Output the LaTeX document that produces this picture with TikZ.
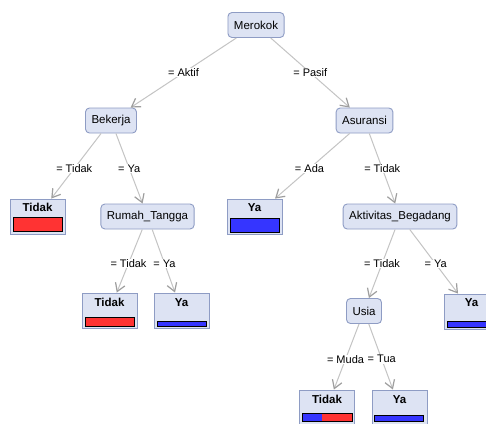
\documentclass[tikz,border=0pt]{standalone}
\usepackage{fontspec}
\setmainfont{Liberation Sans}
\usetikzlibrary{arrows.meta,calc}

\definecolor{nodefill}{HTML}{DDE3F3}
\definecolor{nodeline}{HTML}{8E9CC4}
\definecolor{edgeline}{HTML}{C4C4C4}
\definecolor{tipgray}{HTML}{9E9E9E}
\definecolor{barred}{HTML}{FF3333}
\definecolor{barblue}{HTML}{3535FF}

\tikzset{
	attr/.style={draw=nodeline,fill=nodefill,rounded corners=4pt,line width=0.9pt,
		minimum height=25pt,inner xsep=6pt,font=\fontsize{11.5}{13}\selectfont},
	leaf/.style={draw=nodeline,fill=nodefill,line width=0.9pt,
		minimum width=55pt,minimum height=35pt,inner sep=0pt},
	leaftxt/.style={font=\fontsize{11.5}{13}\selectfont\bfseries,inner sep=0pt},
	branch/.style={edgeline,line width=1pt,-{Straight Barb[tipgray,length=8pt,width=10pt,line width=1.2pt]}},
	elbl/.style={fill=white,inner sep=0.5pt,font=\fontsize{11}{12}\selectfont},
	bar/.style={draw=black,line width=0.8pt}
}

\begin{document}
\begin{tikzpicture}[x=1pt,y=-1pt]
\useasboundingbox[fill=white] (0,0) rectangle (486,423);

% inner nodes
\node[attr] (merokok) at (256,25) {Merokok};
\node[attr] (bekerja) at (111,120.5) {Bekerja};
\node[attr] (asuransi) at (364.5,120.5) {Asuransi};
\node[attr] (rumah) at (147.5,216.5) {Rumah\_Tangga};
\node[attr] (begadang) at (400,216.5) {Aktivitas\_Begadang};
\node[attr] (usia) at (364,311) {Usia};

% leaves
\node[leaf] (l1) at (37.5,216.5) {};
\node[leaf] (l2) at (109.5,310.5) {};
\node[leaf] (l3) at (181.5,310.5) {};
\node[leaf] (l4) at (254.5,216.5) {};
\node[leaf] (l5) at (471.5,311.5) {};
\node[leaf] (l6) at (327,407.5) {};
\node[leaf] (l7) at (399.5,407.5) {};

\node[leaftxt] (t1) at ($(l1.north)+(0,9)$) {Tidak};
\node[leaftxt] (t2) at ($(l2.north)+(0,10)$) {Tidak};
\node[leaftxt] (t3) at ($(l3.north)+(0,10)$) {Ya};
\node[leaftxt] (t4) at ($(l4.north)+(0,9)$) {Ya};
\node[leaftxt] (t5) at ($(l5.north)+(0,9)$) {Ya};
\node[leaftxt] (t6) at ($(l6.north)+(0,10)$) {Tidak};
\node[leaftxt] (t7) at ($(l7.north)+(0,10)$) {Ya};

% class bars
\filldraw[bar,fill=barred] ($(l1.south west)+(4,-3)$) rectangle ($(l1.south east)+(-3,-17)$);
\filldraw[bar,fill=barred] ($(l2.south west)+(4,-2)$) rectangle ($(l2.south east)+(-3,-11)$);
\filldraw[bar,fill=barblue] ($(l3.south west)+(4,-2)$) rectangle ($(l3.south east)+(-3,-7)$);
\filldraw[bar,fill=barblue] ($(l4.south west)+(4,-2)$) rectangle ($(l4.south east)+(-3,-16)$);
\filldraw[bar,fill=barblue] ($(l5.south west)+(4,-2)$) rectangle ($(l5.south east)+(-3,-8)$);
\fill[barblue] ($(l6.south west)+(3,-4)$) rectangle ($(l6.south west)+(23,-12)$);
\fill[barred] ($(l6.south west)+(23,-4)$) rectangle ($(l6.south east)+(-3,-12)$);
\draw[bar] ($(l6.south west)+(3,-4)$) rectangle ($(l6.south east)+(-3,-12)$);
\filldraw[bar,fill=barblue] ($(l7.south west)+(3,-4)$) rectangle ($(l7.south east)+(-4,-10)$);

% branches
\draw[branch] (merokok) -- (bekerja);
\draw[branch] (merokok) -- (asuransi);
\draw[branch] (bekerja) -- (l1);
\draw[branch] (bekerja) -- (rumah);
\draw[branch] (rumah) -- (l2);
\draw[branch] (rumah) -- (l3);
\draw[branch] (asuransi) -- (l4);
\draw[branch] (asuransi) -- (begadang);
\draw[branch] (begadang) -- (usia);
\draw[branch] (begadang) -- (l5);
\draw[branch] (usia) -- (l6);
\draw[branch] (usia) -- (l7);

% branch labels
\node[elbl] (e1) at ($(merokok)!.5!(bekerja)$) {= Aktif};
\node[elbl] (e2) at ($(merokok)!.5!(asuransi)$) {= Pasif};
\node[elbl] (e3) at ($(bekerja)!.5!(l1)$) {= Tidak};
\node[elbl] (e4) at ($(bekerja)!.5!(rumah)$) {= Ya};
\node[elbl] (e5) at ($(rumah)!.5!(l2)$) {= Tidak};
\node[elbl] (e6) at ($(rumah)!.5!(l3)$) {= Ya};
\node[elbl] (e7) at ($(asuransi)!.5!(l4)$) {= Ada};
\node[elbl] (e8) at ($(asuransi)!.5!(begadang)$) {= Tidak};
\node[elbl] (e9) at ($(begadang)!.5!(usia)$) {= Tidak};
\node[elbl] (e10) at ($(begadang)!.5!(l5)$) {= Ya};
\node[elbl] (e11) at ($(usia)!.5!(l6)$) {= Muda};
\node[elbl] (e12) at ($(usia)!.5!(l7)$) {= Tua};

\end{tikzpicture}
\end{document}
